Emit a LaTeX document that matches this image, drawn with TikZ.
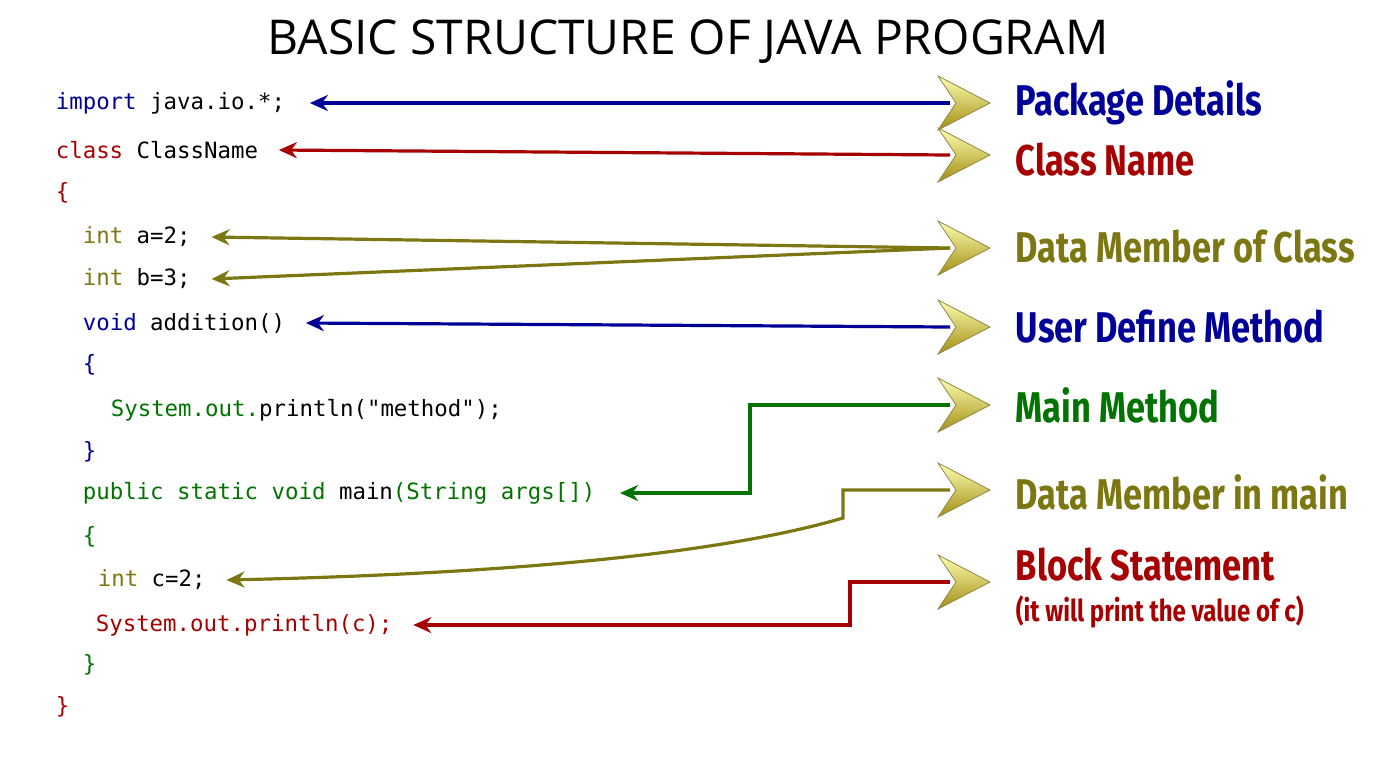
\documentclass[tikz,border=0pt]{standalone}
\usepackage{fontspec}
\setmainfont{Open Sans}
\setmonofont{DejaVu Sans Mono}
\newfontfamily\labelfont[FakeStretch=0.8]{Fira Sans}
\usetikzlibrary{arrows.meta,calc}

\begin{document}
\begin{tikzpicture}[x=0.5pt,y=-0.5pt,thick]
\tikzset{code/.style={anchor=west,inner sep=0pt,font=\ttfamily\fontsize{11.2}{12}\selectfont},
  tag/.style={anchor=west,inner sep=0pt,font=\labelfont\bfseries\fontsize{21.5}{22}\selectfont},
  link/.style={line width=1.6pt,-{Stealth[length=9pt,width=8pt]}}}
\colorlet{kwblue}{blue!60!black} \colorlet{kwred}{red!65!black}
\colorlet{kwolive}{olive!85!black} \colorlet{kwgreen}{green!45!black}
\colorlet{gold}{yellow!60!brown}

\useasboundingbox (0,0) rectangle (1376,768);
\node[inner sep=0pt,font=\fontsize{24}{26}\selectfont] (title) at (688,42) {BASIC STRUCTURE OF JAVA PROGRAM};

% code lines
\node[code] (l1) at (55,103) {\textcolor{kwblue}{import} java.io.*;};
\node[code] (l2) at (55,150) {\textcolor{kwred}{class} ClassName};
\node[code,kwred] (l3) at (55,193) {\{};
\node[code] (l4) at (82,237) {\textcolor{kwolive}{int} a=2;};
\node[code] (l5) at (82,279) {\textcolor{kwolive}{int} b=3;};
\node[code] (l6) at (82,323) {\textcolor{kwblue}{void} addition()};
\node[code,kwblue] (l7) at (82,365) {\{};
\node[code] (l8) at (110,410) {\textcolor{kwgreen}{System.out.}println("method");};
\node[code,kwblue] (l9) at (82,452) {\}};
\node[code,kwgreen] (l10) at (82,493) {public static void \textcolor{black}{main}(String args[])};
\node[code,kwgreen] (l11) at (82,537) {\{};
\node[code] (l12) at (97,580) {\textcolor{kwolive}{int} c=2;};
\node[code,kwred] (l13) at (95,625) {System.out.println(c);};
\node[code,kwgreen] (l14) at (82,665) {\}};
\node[code,kwred] (l15) at (55,707) {\}};

% golden chevrons
\foreach \y/\n in {103/p,155/c,248/d,327/u,405/m,490/i,582/b}{
  \fill[top color=yellow!30!white,bottom color=gold!70!black,draw=gold!60!black,thin]
    (938,\y-27) -- (990,\y) -- (938,\y+27) -- (956,\y) -- cycle;
  \coordinate (\n) at (950,\y);
}

% labels
\node[tag,kwblue] (tp) at (1015,103) {Package Details};
\node[tag,kwred] (tc) at (1015,160) {Class Name};
\node[tag,kwolive] (td) at (1015,247) {Data Member of Class};
\node[tag,kwblue] (tu) at (1015,327) {User Define Method};
\node[tag,kwgreen] (tm) at (1015,405) {Main Method};
\node[tag,kwolive] (ti) at (1015,492) {Data Member in main};
\node[tag,kwred] (tb) at (1015,565) {Block Statement};
\node[tag,kwred,font=\labelfont\bfseries\fontsize{15}{16}\selectfont] (tb2) at (1015,612) {(it will print the value of c)};

% connectors
\draw[link,kwblue] (p) -- ([xshift=12pt]l1.east);
\draw[link,kwred] (c) -- ([xshift=10pt]l2.east);
\draw[link,kwolive] (d) -- ([xshift=10pt]l4.east);
\draw[link,kwolive] (d) -- ([xshift=10pt]l5.east);
\draw[link,kwblue] (u) -- ([xshift=10pt]l6.east);
\draw[link,kwgreen] (m) -- (750,405) -- (750,493) -- ([xshift=12pt]l10.east);
\draw[link,kwolive] (i) -- (843,490) -- (843,518) .. controls (700,560) and (450,575) .. ([xshift=10pt]l12.east);
\draw[link,kwred] (b) -- (850,582) -- (850,625) -- ([xshift=10pt]l13.east);
\end{tikzpicture}
\end{document}
